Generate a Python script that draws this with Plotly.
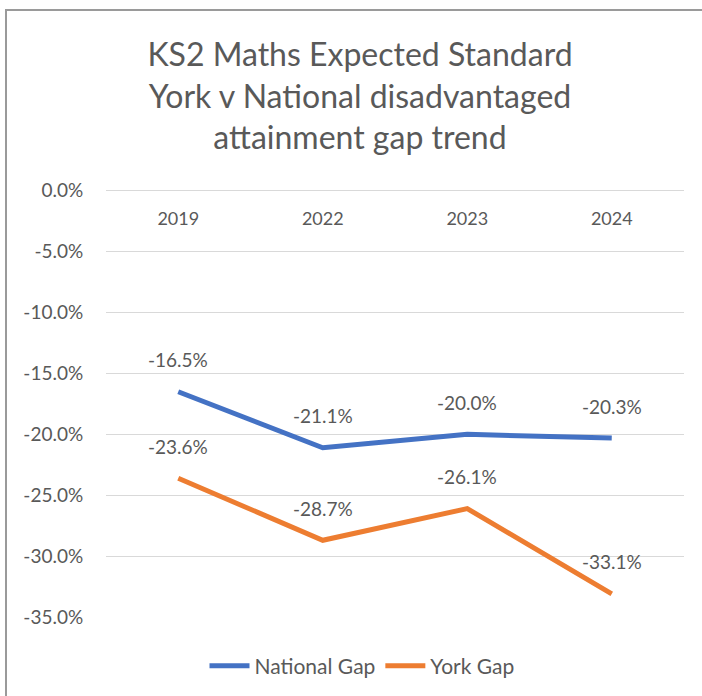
import plotly.graph_objects as go

years = ["2019", "2022", "2023", "2024"]
national_gap = [-16.5, -21.1, -20.0, -20.3]
york_gap = [-23.6, -28.7, -26.1, -33.1]
y_ticks = [0, -5, -10, -15, -20, -25, -30, -35]
y_tick_text = [f"{v:.1f}%" for v in y_ticks]

W, H = 702, 696
L, R, T, B = 106, 18, 189, 79
pw, ph = W - L - R, H - T - B

def px_x(px):
    return (px - L) / pw

def px_y(py):
    return (H - B - py) / ph

FONT = "Lato"
GREY = "#595959"
BLUE = "#4472C4"
ORANGE = "#ED7D31"

fig = go.Figure()
fig.add_trace(go.Scatter(x=years, y=national_gap, name="National Gap", mode="lines",
                         line=dict(color=BLUE, width=5)))
fig.add_trace(go.Scatter(x=years, y=york_gap, name="York Gap", mode="lines",
                         line=dict(color=ORANGE, width=5)))

annotations = []
for series in (national_gap, york_gap):
    for i, v in enumerate(series):
        annotations.append(dict(x=i, y=v, xref="x", yref="y", text=f"{v:.1f}%",
                                showarrow=False, yshift=32,
                                font=dict(family=FONT, size=19, color=GREY)))

fig.update_layout(
    width=W, height=H,
    margin=dict(l=L, r=R, t=T, b=B, autoexpand=False),
    paper_bgcolor="white", plot_bgcolor="white",
    title=dict(text="KS2 Maths Expected Standard<br>York v National disadvantaged<br>attainment gap trend",
               x=360 / W, xanchor="center", xref="container",
               y=1 - 66 / H, yanchor="top", yref="container",
               font=dict(family=FONT, size=32, color=GREY)),
    showlegend=True,
    legend=dict(orientation="h", x=px_x(362), xanchor="center", y=px_y(666), yanchor="middle",
                font=dict(family=FONT, size=21, color=GREY), itemwidth=40,
                bgcolor="rgba(0,0,0,0)"),
    annotations=annotations,
    shapes=[dict(type="rect", xref="paper", yref="paper",
                 x0=px_x(6), x1=px_x(720), y0=px_y(720), y1=px_y(10),
                 line=dict(color="#9a9a9a", width=2), layer="above")],
)

fig.update_xaxes(type="category", range=[-0.5, 3.5], side="bottom", anchor="free",
                 position=px_y(206),
                 showgrid=False, zeroline=False, showline=False, ticks="",
                 automargin=False,
                 tickfont=dict(family=FONT, size=18, color=GREY))
fig.update_yaxes(range=[-35, 0.15], tickvals=y_ticks, ticktext=y_tick_text,
                 showgrid=True, gridcolor="#D9D9D9", gridwidth=1.3,
                 zeroline=False, showline=False,
                 ticks="outside", ticklen=18, tickcolor="rgba(0,0,0,0)",
                 automargin=False,
                 tickfont=dict(family=FONT, size=19, color=GREY))

fig.write_html("out.html", config={"displayModeBar": False},
               post_script="document.body.style.margin='0';")
